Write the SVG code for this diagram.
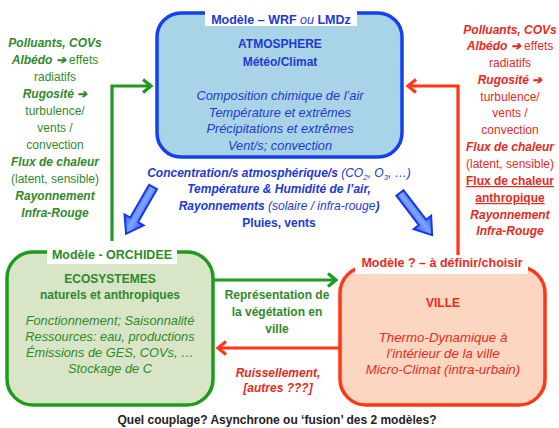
<svg xmlns="http://www.w3.org/2000/svg" width="559" height="428" viewBox="0 0 559 428">
<style>
text{font-family:"Liberation Sans",Arial,sans-serif;font-size:12px;text-anchor:middle}
.b{font-weight:bold}
.i{font-style:italic}
.bi{font-weight:bold;font-style:italic}
.n{font-weight:normal;font-style:normal}
.ni{font-weight:normal;font-style:italic}
.blue{fill:#2238d6}
.green{fill:#2f8a2a}
.red{fill:#ea2a1c}
.title{font-weight:bold;font-size:12.5px}
.u{text-decoration:underline}
.body{font-size:12.8px}
.bodyv{font-size:13.3px}
</style>
<defs>
<marker id="ag" markerUnits="userSpaceOnUse" markerWidth="16" markerHeight="16" refX="11" refY="8" orient="auto" viewBox="0 0 16 16">
<path d="M3,1.5 L11,8 L3,14.5" fill="none" stroke="#1e9a1e" stroke-width="3.2" stroke-linejoin="miter"/>
</marker>
<marker id="ar" markerUnits="userSpaceOnUse" markerWidth="16" markerHeight="16" refX="11" refY="8" orient="auto" viewBox="0 0 16 16">
<path d="M3,1.5 L11,8 L3,14.5" fill="none" stroke="#ff3618" stroke-width="3.2" stroke-linejoin="miter"/>
</marker>
<linearGradient id="bg" x1="0" y1="0" x2="0" y2="1">
<stop offset="0" stop-color="#2a55ff"/>
<stop offset="0.5" stop-color="#7fa6ff"/>
<stop offset="1" stop-color="#2a55ff"/>
</linearGradient>
</defs>

<g id="connectors">
<polyline points="112,241 112,86 151,86" fill="none" stroke="#1e9a1e" stroke-width="3.2" marker-end="url(#ag)"/>
<polyline points="458,256 458,86 408,86" fill="none" stroke="#ff3618" stroke-width="3.2" marker-end="url(#ar)"/>
<line x1="214" y1="280" x2="336" y2="280" stroke="#1e9a1e" stroke-width="3.2" marker-end="url(#ag)"/>
<line x1="340" y1="348" x2="218" y2="348" stroke="#ff3618" stroke-width="3.2" marker-end="url(#ar)"/>
<polygon transform="translate(153,187) rotate(119.9)" points="0,-4.5 38,-4.5 38,-11 54,0 38,11 38,4.5 0,4.5" fill="url(#bg)" stroke="#1636ee" stroke-width="2" stroke-linejoin="miter"/>
<polygon transform="translate(400,193) rotate(52.7)" points="0,-4.5 37,-4.5 37,-11 53,0 37,11 37,4.5 0,4.5" fill="url(#bg)" stroke="#1636ee" stroke-width="2" stroke-linejoin="miter"/>
</g>

<g id="left-labels" class="green">
<text x="55" y="47" class="bi">Polluants, COVs</text>
<text x="55" y="64"><tspan class="bi">Albédo ➔</tspan> effets</text>
<text x="55" y="81">radiatifs</text>
<text x="55" y="98" class="bi">Rugosité ➔</text>
<text x="55" y="115">turbulence/</text>
<text x="55" y="132">vents /</text>
<text x="55" y="149">convection</text>
<text x="55" y="166" class="bi">Flux de chaleur</text>
<text x="55" y="183">(latent, sensible)</text>
<text x="55" y="200" class="bi">Rayonnement</text>
<text x="55" y="217" class="bi">Infra-Rouge</text>
</g>

<g id="right-labels" class="red">
<text x="510" y="34" class="bi">Polluants, COVs</text>
<text x="510" y="50"><tspan class="bi">Albédo ➔</tspan> effets</text>
<text x="510" y="67">radiatifs</text>
<text x="510" y="84" class="bi">Rugosité ➔</text>
<text x="510" y="101">turbulence/</text>
<text x="510" y="117">vents /</text>
<text x="510" y="134">convection</text>
<text x="510" y="151" class="bi">Flux de chaleur</text>
<text x="510" y="168">(latent, sensible)</text>
<text x="510" y="185" class="b u">Flux de chaleur</text>
<text x="510" y="202" class="b u">anthropique</text>
<text x="510" y="219" class="bi">Rayonnement</text>
<text x="510" y="235" class="bi">Infra-Rouge</text>
</g>

<g id="atmosphere">
<rect x="157" y="13" width="245" height="144" rx="24" fill="#a9d3e6" stroke="#1440f0" stroke-width="3.5"/>
<rect x="205" y="6" width="152" height="20" fill="#fff"/>
<text x="281" y="24" class="title blue">Modèle – WRF <tspan class="ni">ou</tspan> LMDz</text>
<text x="280" y="48" class="b blue">ATMOSPHERE</text>
<text x="280" y="66" class="b blue">Météo/Climat</text>
<text x="280" y="100" class="i blue body">Composition chimique de l’air</text>
<text x="280" y="117" class="i blue body">Température et extrêmes</text>
<text x="280" y="133" class="i blue body">Précipitations et extrêmes</text>
<text x="280" y="150" class="i blue body">Vent/s; convection</text>
</g>

<g id="atmo-outputs" class="blue">
<text x="279" y="177" font-size="11.5"><tspan class="bi">Concentration/s atmosphérique/s</tspan><tspan class="ni"> (CO</tspan><tspan class="ni" font-size="8" dy="3">2</tspan><tspan class="ni" dy="-3">, O</tspan><tspan class="ni" font-size="8" dy="3">3</tspan><tspan class="ni" dy="-3">, …)</tspan></text>
<text x="279" y="193" class="bi">Température &amp; Humidité de l’air,</text>
<text x="279" y="210"><tspan class="bi">Rayonnements</tspan><tspan class="ni"> (solaire / infra-rouge</tspan><tspan class="bi">)</tspan></text>
<text x="279" y="227" class="b">Pluies, vents</text>
</g>

<g id="orchidee">
<rect x="7" y="252" width="206" height="153" rx="26" fill="#d8e5c6" stroke="#1e9a1e" stroke-width="3.5"/>
<rect x="47" y="244" width="130" height="20" fill="#fff"/>
<text x="112" y="259" class="title green">Modèle - ORCHIDEE</text>
<text x="110" y="283" class="b green">ECOSYSTEMES</text>
<text x="110" y="299" class="b green">naturels et anthropiques</text>
<text x="110" y="325" class="i green body">Fonctionnement; Saisonnalité</text>
<text x="110" y="341" class="i green body">Ressources: eau, productions</text>
<text x="110" y="357" class="i green body">Émissions de GES, COVs, …</text>
<text x="110" y="373" class="i green body">Stockage de C</text>
</g>

<g id="ville">
<rect x="340" y="267" width="205" height="138" rx="26" fill="#fcd6c0" stroke="#ff3618" stroke-width="3.5"/>
<rect x="355" y="255" width="173" height="19" fill="#fff"/>
<text x="442" y="267" class="title red">Modèle ? – à définir/choisir</text>
<text x="443" y="307" class="b red">VILLE</text>
<text x="443" y="342" class="i red bodyv">Thermo-Dynamique à</text>
<text x="443" y="358" class="i red bodyv">l’intérieur de la ville</text>
<text x="443" y="374" class="i red bodyv">Micro-Climat (intra-urbain)</text>
</g>

<g id="coupling-labels">
<text x="277" y="299" class="b green">Représentation de</text>
<text x="277" y="316" class="b green">la végétation en</text>
<text x="277" y="333" class="b green">ville</text>
<text x="278" y="377" class="bi red">Ruissellement,</text>
<text x="278" y="392" class="bi red">[autres ???]</text>
</g>

<text x="277" y="424" class="b" fill="#222">Quel couplage? Asynchrone ou ‘fusion’ des 2 modèles?</text>
</svg>
